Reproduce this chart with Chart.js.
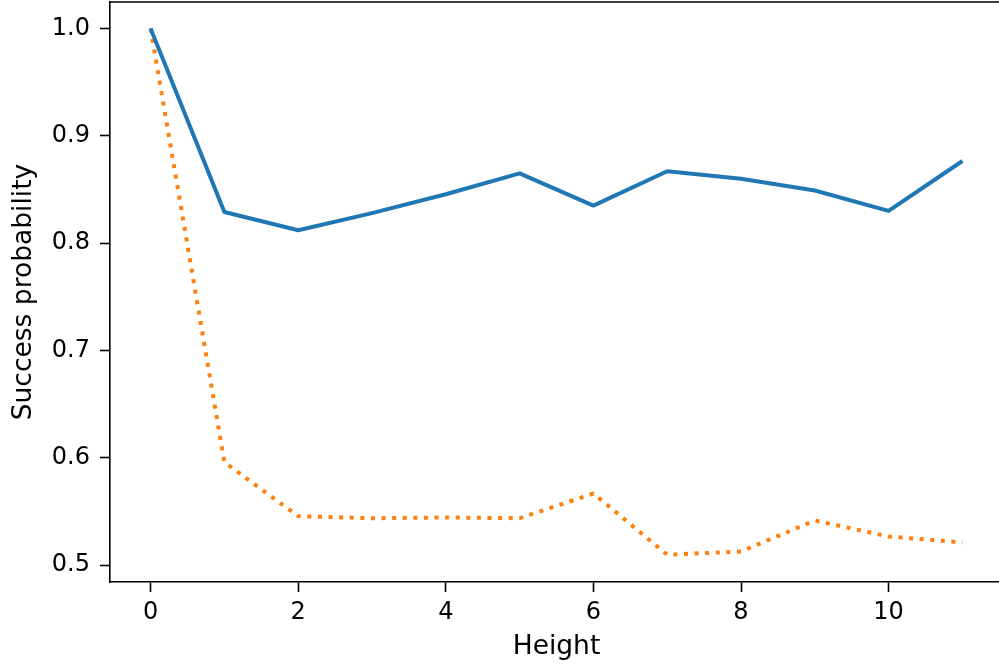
<!DOCTYPE html>
<html>
<head>
<meta charset="utf-8">
<script src="https://cdn.jsdelivr.net/npm/chart.js@4/dist/chart.umd.min.js"></script>
<style>
  html, body { margin: 0; padding: 0; background: #fff; overflow: hidden; }
  #wrap { width: 999px; height: 665px; overflow: hidden; position: relative; }
  #chart { display: block; }
</style>
</head>
<body>
<div id="wrap"><canvas id="chart" width="1004" height="665" style="width:1004px;height:665px"></canvas></div>
<script>
// Success probability versus height for the two strategies
const heights = [0, 1, 2, 3, 4, 5, 6, 7, 8, 9, 10, 11];
const solidSeries = [1.0, 0.829, 0.812, 0.828, 0.8455, 0.865, 0.835, 0.867, 0.860, 0.849, 0.830, 0.8765];
const dottedSeries = [1.0, 0.596, 0.5457, 0.5438, 0.5445, 0.5438, 0.5668, 0.5098, 0.5128, 0.5417, 0.5268, 0.5212];
const xTicks = [0, 2, 4, 6, 8, 10];
const yTicks = [0.5, 0.6, 0.7, 0.8, 0.9, 1.0];

const FONT = 'DejaVu Sans';
const pts = arr => heights.map((h, i) => ({ x: h, y: arr[i] }));

// Closes the frame on the top/right sides of the plotting area
const frame = {
  id: 'frame',
  afterDatasetsDraw(chart) {
    const { ctx, chartArea: a } = chart;
    ctx.save();
    ctx.strokeStyle = '#000';
    ctx.lineWidth = 1.6;
    ctx.beginPath();
    ctx.moveTo(a.left, a.top);
    ctx.lineTo(a.right, a.top);
    ctx.lineTo(a.right, a.bottom);
    ctx.stroke();
    ctx.restore();
  }
};

new Chart(document.getElementById('chart'), {
  type: 'line',
  data: {
    datasets: [
      {
        data: pts(solidSeries),
        borderColor: '#1f77b4',
        borderWidth: 4,
        pointRadius: 0,
        fill: false,
        tension: 0,
        borderCapStyle: 'butt',
        borderJoinStyle: 'round'
      },
      {
        data: pts(dottedSeries),
        borderColor: '#ff7f0e',
        borderWidth: 4,
        borderDash: [4, 6.6],
        pointRadius: 0,
        fill: false,
        tension: 0,
        borderCapStyle: 'butt',
        borderJoinStyle: 'round'
      }
    ]
  },
  options: {
    responsive: false,
    maintainAspectRatio: false,
    devicePixelRatio: 1,
    animation: false,
    layout: { padding: { top: 2, right: 1, left: 0, bottom: 0 } },
    plugins: { legend: { display: false }, tooltip: { enabled: false } },
    scales: {
      x: {
        type: 'linear',
        min: -0.55,
        max: 11.55,
        afterBuildTicks: s => { s.ticks = xTicks.map(v => ({ value: v })); },
        afterFit: s => { s.height = 83; s.paddingLeft = 0; s.paddingRight = 0; },
        grid: { drawOnChartArea: false, tickLength: 10, tickWidth: 1.6, tickColor: '#000' },
        border: { display: true, color: '#000', width: 1.6 },
        ticks: {
          color: '#000',
          padding: 6,
          maxRotation: 0,
          font: { family: FONT, size: 24 },
          callback: v => String(v)
        },
        title: {
          display: true,
          text: 'Height',
          color: '#000',
          font: { family: FONT, size: 26.5, lineHeight: 1.2 },
          padding: { top: 0, bottom: 2 }
        }
      },
      y: {
        type: 'linear',
        min: 0.4844,
        max: 1.0246,
        afterBuildTicks: s => { s.ticks = yTicks.map(v => ({ value: v })); },
        afterFit: s => { s.width = 110; s.paddingTop = 0; s.paddingBottom = 0; },
        grid: { drawOnChartArea: false, tickLength: 10, tickWidth: 1.6, tickColor: '#000' },
        border: { display: true, color: '#000', width: 1.6 },
        ticks: {
          color: '#000',
          padding: 10,
          font: { family: FONT, size: 24 },
          callback: v => Number(v).toFixed(1)
        },
        title: {
          display: true,
          text: 'Success probability',
          color: '#000',
          font: { family: FONT, size: 26.5, lineHeight: 1.2 },
          padding: { top: 8, bottom: 0 }
        }
      }
    }
  },
  plugins: [frame]
});
</script>
</body>
</html>
